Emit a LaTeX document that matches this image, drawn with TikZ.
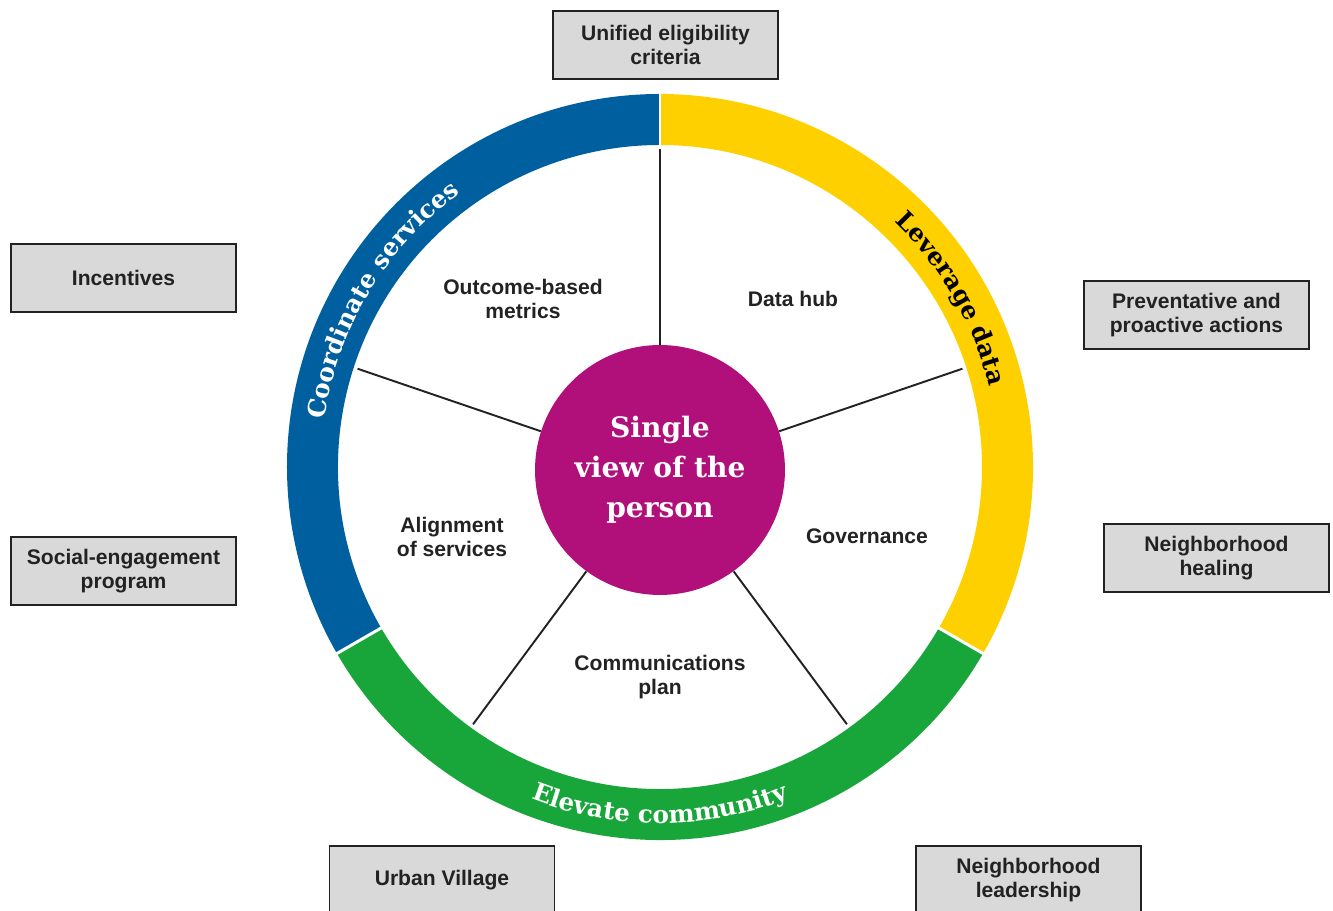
\documentclass[tikz,border=0pt]{standalone}
\usepackage{fontspec}
\setmainfont{Liberation Sans}
\newfontfamily\slabfont{DejaVu Serif}
\usetikzlibrary{decorations.text}
\definecolor{ringblue}{HTML}{005F9E}
\definecolor{ringyellow}{HTML}{FFD000}
\definecolor{ringgreen}{HTML}{18A53A}
\definecolor{hubmagenta}{HTML}{B10F7A}
\definecolor{boxgray}{HTML}{D9D9D9}
\definecolor{inkgray}{HTML}{222222}
\begin{document}
\begin{tikzpicture}[x=0.02cm, y=0.02cm,
    box/.style={rectangle, draw=inkgray, line width=1.1pt, fill=boxgray, minimum width=4.5cm, minimum height=1.36cm, align=center, text=inkgray, font=\fontsize{12}{13.7}\selectfont\bfseries},
    segment/.style={align=center, text=inkgray, font=\fontsize{12}{13.7}\selectfont\bfseries},
    spoke/.style={draw=inkgray, line width=1.1pt},
    ringtext/.style={decorate, decoration={text along path, text align=center, text color=#1}}]
    \useasboundingbox (-660, -444) rectangle (673, 467);

    \fill[ringblue] (90:373) arc[start angle=90, end angle=210, radius=373] -- (210:322) arc[start angle=210, end angle=90, radius=322] -- cycle;
    \fill[ringgreen] (210:373) arc[start angle=210, end angle=330, radius=373] -- (330:322) arc[start angle=330, end angle=210, radius=322] -- cycle;
    \fill[ringyellow] (-30:373) arc[start angle=-30, end angle=90, radius=373] -- (90:322) arc[start angle=90, end angle=-30, radius=322] -- cycle;
    \foreach \a in {90, 210, 330}
        \draw[white, line width=1.7pt] (\a:318) -- (\a:378);

    \path[ringtext=white, decoration={text={|\slabfont\bfseries\fontsize{14}{17}\selectfont|Coordinate services}}] (200:339) arc[start angle=200, end angle=98, radius=339];
    \path[ringtext=black, decoration={text={|\slabfont\bfseries\fontsize{14}{17}\selectfont|Leverage data}}] (80:339) arc[start angle=80, end angle=-20, radius=339];
    \path[ringtext=white, decoration={text={|\slabfont\bfseries\fontsize{14}{17}\selectfont|Elevate community}}] (220:356) arc[start angle=220, end angle=320, radius=356];

    \node (hub) [circle, fill=hubmagenta, minimum size=5cm, inner sep=0pt, align=center, text=white, font=\slabfont\bfseries\fontsize{16}{22.8}\selectfont] at (0, -3) {Single\\view of the\\person};

    \foreach \a/\n in {90/s1, 162/s2, 234/s3, 306/s4, 18/s5}
        \coordinate (\n) at (\a:318);
    \draw[spoke] (hub.90) -- (s1);
    \draw[spoke] (hub.162) -- (s2);
    \draw[spoke] (hub.234) -- (s3);
    \draw[spoke] (hub.306) -- (s4);
    \draw[spoke] (hub.18) -- (s5);

    \node (metrics) [segment] at (-137, 168) {Outcome-based\\metrics};
    \node (datahub) [segment] at (133, 168) {Data hub};
    \node (governance) [segment] at (207, -69) {Governance};
    \node (comms) [segment] at (0, -210) {Communications\\plan};
    \node (alignment) [segment] at (-208, -70) {Alignment\\of services};

    \node (unified) [box] at (5.5, 422) {Unified eligibility\\criteria};
    \node (incentives) [box] at (-536.5, 189) {Incentives};
    \node (social) [box] at (-536.5, -104) {Social-engagement\\program};
    \node (preventative) [box] at (536.5, 152) {Preventative and\\proactive actions};
    \node (healing) [box] at (556.5, -91) {Neighborhood\\healing};
    \node (urban) [box] at (-218, -413) {Urban Village};
    \node (leadership) [box] at (368.5, -413) {Neighborhood\\leadership};
\end{tikzpicture}
\end{document}
